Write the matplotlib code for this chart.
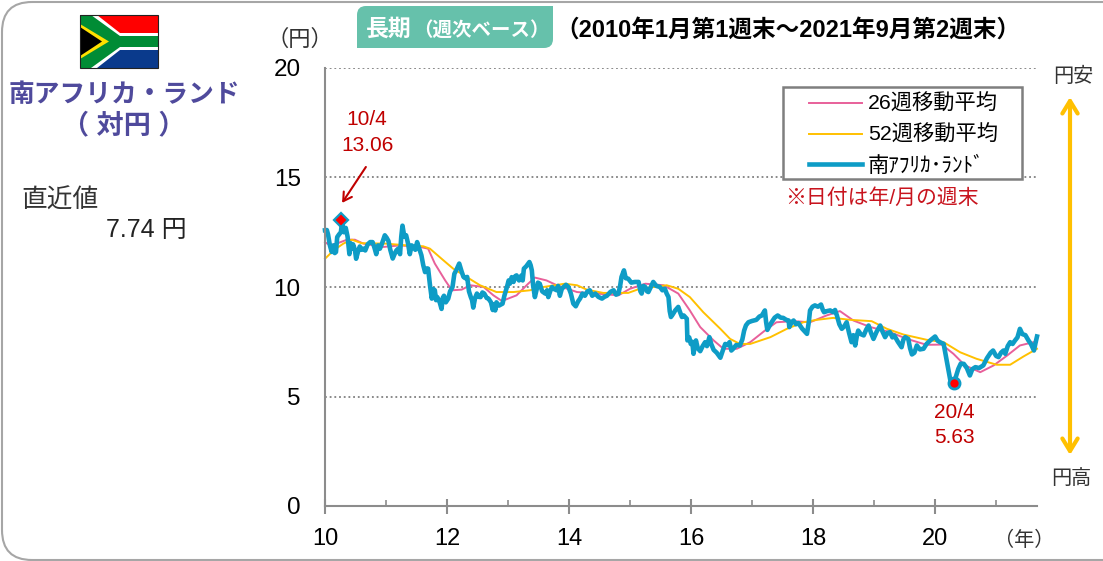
import matplotlib
matplotlib.use('Agg')
import matplotlib.pyplot as plt
from matplotlib.patches import FancyBboxPatch, Polygon, Rectangle

plt.rcParams['font.family'] = ['Liberation Sans', 'Noto Sans CJK JP', 'DejaVu Sans']

# rand weekly close (year, yen)
rand_pts = [
    (10.0, 12.59), (10.03, 12.6), (10.05, 12.4), (10.08, 11.9), (10.11, 11.6), (10.14, 11.9), (10.16, 11.55),
    (10.18, 11.6), (10.2, 12.28), (10.23, 12.4), (10.26, 12.5), (10.28, 12.95), (10.31, 12.5), (10.34, 12.7),
    (10.37, 12.3), (10.4, 11.5), (10.42, 12.0), (10.44, 11.75), (10.46, 11.95), (10.49, 11.7), (10.51, 11.29),
    (10.54, 11.6), (10.57, 11.85), (10.6, 11.7), (10.63, 11.75), (10.66, 11.67), (10.7, 11.95), (10.74, 12.05),
    (10.78, 12.05), (10.81, 11.8), (10.84, 11.5), (10.87, 11.9), (10.9, 11.75), (10.93, 11.95), (10.96, 12.2),
    (10.98, 12.36), (11.01, 12.25), (11.04, 12.1), (11.07, 11.7), (11.11, 11.3), (11.14, 11.5), (11.17, 11.67),
    (11.2, 11.75), (11.23, 11.5), (11.25, 12.3), (11.27, 12.8), (11.3, 12.3), (11.33, 12.36), (11.36, 12.0),
    (11.39, 11.5), (11.42, 11.9), (11.45, 11.83), (11.48, 11.7), (11.51, 12.05), (11.55, 11.7), (11.58, 11.45),
    (11.61, 11.0), (11.64, 10.68), (11.67, 10.85), (11.69, 10.84), (11.72, 10.1), (11.75, 9.47), (11.78, 9.9),
    (11.8, 9.85), (11.82, 9.4), (11.84, 9.54), (11.88, 9.3), (11.91, 9.0), (11.93, 9.5), (11.95, 9.6),
    (11.98, 9.3), (12.02, 9.47), (12.05, 9.8), (12.09, 10.0), (12.12, 10.6), (12.15, 10.76), (12.18, 10.95),
    (12.2, 11.07), (12.24, 10.7), (12.27, 10.46), (12.3, 10.4), (12.33, 10.46), (12.36, 9.8), (12.39, 9.54),
    (12.41, 9.4), (12.43, 9.06), (12.46, 9.5), (12.49, 9.7), (12.52, 9.55), (12.55, 9.54), (12.58, 9.75),
    (12.61, 9.7), (12.65, 9.5), (12.68, 9.47), (12.72, 9.3), (12.75, 8.95), (12.77, 9.2), (12.79, 8.93),
    (12.81, 9.3), (12.85, 9.15), (12.91, 9.24), (12.94, 9.6), (12.99, 10.08), (13.01, 10.3), (13.03, 10.15),
    (13.06, 10.45), (13.09, 10.23), (13.12, 10.5), (13.14, 10.53), (13.18, 10.3), (13.22, 10.53), (13.24, 10.3),
    (13.26, 10.84), (13.3, 10.95), (13.35, 11.14), (13.37, 11.0), (13.39, 10.76), (13.41, 10.1), (13.44, 9.54),
    (13.47, 9.9), (13.49, 10.2), (13.52, 10.15), (13.56, 9.8), (13.61, 9.7), (13.64, 9.85), (13.66, 9.54),
    (13.69, 9.8), (13.72, 10.0), (13.76, 9.9), (13.8, 9.85), (13.82, 10.05), (13.85, 9.6), (13.88, 9.9),
    (13.91, 10.0), (13.95, 10.1), (13.99, 10.0), (14.03, 9.7), (14.07, 9.24), (14.11, 9.12), (14.15, 9.35),
    (14.18, 9.47), (14.22, 9.7), (14.26, 9.6), (14.3, 9.8), (14.34, 9.85), (14.38, 9.6), (14.43, 9.7),
    (14.48, 9.55), (14.54, 9.47), (14.58, 9.55), (14.62, 9.6), (14.68, 9.78), (14.73, 9.85), (14.77, 9.65),
    (14.81, 9.7), (14.84, 10.1), (14.86, 10.46), (14.9, 10.76), (14.93, 10.4), (14.97, 10.38), (15.02, 10.2),
    (15.08, 10.23), (15.14, 10.23), (15.17, 9.8), (15.19, 9.7), (15.22, 10.05), (15.25, 10.0), (15.28, 9.8),
    (15.3, 9.77), (15.34, 10.0), (15.38, 10.23), (15.43, 10.05), (15.49, 10.0), (15.53, 9.85), (15.57, 9.92),
    (15.6, 9.7), (15.63, 9.54), (15.65, 8.9), (15.67, 8.63), (15.7, 8.75), (15.74, 8.93), (15.79, 9.09),
    (15.82, 8.85), (15.85, 8.63), (15.88, 8.7), (15.93, 8.55), (15.94, 7.56), (15.97, 7.7), (15.995, 7.4),
    (16.02, 7.5), (16.04, 6.95), (16.06, 7.3), (16.08, 7.56), (16.11, 7.2), (16.15, 7.07), (16.19, 7.3),
    (16.23, 7.48), (16.26, 7.3), (16.3, 7.71), (16.33, 7.4), (16.37, 7.13), (16.42, 7.0), (16.48, 6.77),
    (16.52, 7.1), (16.56, 7.4), (16.6, 7.35), (16.63, 7.48), (16.66, 7.1), (16.69, 7.18), (16.74, 7.35),
    (16.8, 7.33), (16.84, 7.6), (16.87, 8.01), (16.9, 8.25), (16.94, 8.39), (17.0, 8.45), (17.07, 8.5),
    (17.12, 8.65), (17.16, 8.7), (17.21, 8.93), (17.23, 8.4), (17.25, 8.04), (17.28, 8.2), (17.32, 8.39),
    (17.37, 8.6), (17.42, 8.7), (17.47, 8.6), (17.51, 8.59), (17.56, 8.5), (17.6, 8.47), (17.61, 8.17),
    (17.65, 8.4), (17.68, 8.47), (17.72, 8.3), (17.76, 8.35), (17.82, 8.1), (17.9, 7.86), (17.93, 8.4),
    (17.95, 8.93), (17.99, 9.1), (18.03, 9.16), (18.08, 9.1), (18.13, 9.2), (18.16, 8.95), (18.18, 8.85),
    (18.23, 8.9), (18.28, 8.93), (18.33, 8.85), (18.36, 8.95), (18.39, 8.7), (18.43, 8.3), (18.47, 8.09),
    (18.51, 8.2), (18.55, 8.39), (18.59, 7.9), (18.63, 7.48), (18.66, 7.8), (18.69, 7.33), (18.72, 7.8),
    (18.74, 8.01), (18.78, 7.85), (18.83, 7.79), (18.87, 8.05), (18.91, 8.24), (18.95, 7.9), (18.99, 7.63),
    (19.04, 7.95), (19.1, 8.24), (19.14, 7.95), (19.18, 7.71), (19.22, 7.9), (19.26, 7.94), (19.3, 7.7),
    (19.33, 7.79), (19.39, 7.5), (19.45, 7.25), (19.48, 7.6), (19.51, 7.71), (19.56, 7.63), (19.59, 7.2),
    (19.62, 6.92), (19.66, 7.0), (19.7, 7.33), (19.75, 7.15), (19.81, 7.18), (19.86, 7.4), (19.92, 7.56),
    (20.0, 7.74), (20.04, 7.55), (20.08, 7.48), (20.14, 7.4), (20.19, 6.64), (20.22, 6.2), (20.25, 5.73),
    (20.31, 5.63), (20.35, 6.0), (20.38, 6.26), (20.42, 6.5), (20.47, 6.49), (20.52, 6.3), (20.57, 5.96),
    (20.61, 6.25), (20.66, 6.34), (20.72, 6.3), (20.79, 6.42), (20.85, 6.75), (20.91, 7.0), (20.95, 7.1),
    (21.0, 6.85), (21.04, 6.8), (21.08, 7.0), (21.12, 7.1), (21.15, 6.95), (21.19, 7.3), (21.23, 7.48),
    (21.27, 7.4), (21.31, 7.56), (21.35, 7.7), (21.39, 8.09), (21.43, 7.85), (21.48, 7.8), (21.53, 7.56),
    (21.57, 7.4), (21.62, 7.1), (21.65, 7.5), (21.67, 7.74),
]
rand_x, rand_y = zip(*rand_pts)

ma26_x = [10.0, 10.08, 10.19, 10.36, 10.49, 10.63, 10.96, 11.23, 11.56, 11.69, 11.8, 11.97, 12.08, 12.24, 12.38,
          12.6, 12.76, 12.9, 13.14, 13.33, 13.44, 13.63, 13.8, 14.13, 14.45, 14.81, 15.0, 15.25, 15.55, 15.79,
          15.98, 16.15, 16.37, 16.53, 16.75, 16.97, 17.21, 17.4, 17.68, 17.95, 18.22, 18.44, 18.66, 18.94, 19.26,
          19.54, 19.86, 20.11, 20.3, 20.49, 20.74, 20.96, 21.18, 21.39, 21.61, 21.67]
ma26_y = [12.05, 11.9, 11.98, 12.16, 12.16, 11.98, 11.83, 11.9, 11.83, 11.75, 11.07, 10.3, 9.85, 9.88, 10.08,
          10.0, 9.62, 9.36, 9.62, 10.15, 10.43, 10.3, 10.08, 9.77, 9.7, 9.62, 9.92, 10.15, 10.08, 9.7,
          8.93, 8.17, 7.56, 7.18, 7.18, 7.48, 8.01, 8.39, 8.44, 8.39, 8.7, 8.9, 8.47, 8.17, 7.94,
          7.63, 7.36, 7.37, 6.95, 6.42, 6.11, 6.42, 6.87, 7.33, 7.48, 7.5]

ma52_x = [10.0, 10.14, 10.3, 10.44, 10.6, 11.0, 11.34, 11.61, 11.72, 11.94, 12.1, 12.32, 12.54, 12.81, 13.09,
          13.36, 13.58, 13.93, 14.13, 14.29, 14.56, 14.97, 15.16, 15.6, 15.79, 15.98, 16.2, 16.48, 16.64, 16.8,
          16.97, 17.3, 17.57, 17.84, 18.06, 18.33, 18.61, 18.96, 19.21, 19.48, 19.86, 20.14, 20.41, 20.68, 21.01,
          21.23, 21.45, 21.67]
ma52_y = [11.29, 11.67, 11.98, 12.16, 12.0, 11.98, 11.9, 11.86, 11.75, 11.22, 10.84, 10.46, 10.08, 9.77, 9.77,
          9.85, 10.0, 10.15, 10.08, 9.88, 9.73, 9.73, 9.92, 10.08, 9.92, 9.54, 8.85, 8.09, 7.63, 7.4,
          7.4, 7.71, 8.09, 8.39, 8.5, 8.59, 8.5, 8.44, 8.09, 7.83, 7.59, 7.48, 7.02, 6.72, 6.45,
          6.45, 6.83, 7.18]

high_x, high_y = 10.26, 13.06
low_x, low_y = 20.31, 5.63
year_ticks = [10, 12, 14, 16, 18, 20]
year_minor = [11, 13, 15, 17, 19, 21]
year_labels = ['10', '12', '14', '16', '18', '20']
yen_ticks = [0, 5, 10, 15, 20]

W, H = 1103, 561
RED = '#C00000'
BLUE = '#0E9CC6'
PURPLE = '#4F4A9C'
GRAY = '#8C8C8C'
BADGE = '#66C1AB'

fig = plt.figure(figsize=(W / 100, H / 100), dpi=100)

# overlay in pixel coords for the frame, flag and loose text
bg = fig.add_axes([0, 0, 1, 1])
bg.set_xlim(0, W)
bg.set_ylim(H, 0)
bg.axis('off')

bg.add_patch(FancyBboxPatch((2, 2), W + 100, H - 3, boxstyle='round,pad=0,rounding_size=30',
                            fc='none', ec='#A6A6A6', lw=1.5))

# flag
bg.add_patch(Rectangle((80, 15), 78, 26, fc='#FF0000', ec='none'))
bg.add_patch(Rectangle((80, 41), 78, 27, fc='#0A3A8C', ec='none'))
bg.add_patch(Polygon([(80, 15), (97, 15), (120, 33), (158, 33), (158, 50), (120, 50), (97, 68), (80, 68)], fc='white', ec='none'))
bg.add_patch(Polygon([(80, 15), (91, 15), (120, 36), (158, 36), (158, 47), (120, 47), (91, 68), (80, 68)], fc='#008C35', ec='none'))
bg.add_patch(Polygon([(80, 24), (109, 41.5), (80, 59)], fc='#FFE000', ec='none'))
bg.add_patch(Polygon([(80, 27), (102, 41.5), (80, 56)], fc='black', ec='none'))
bg.add_patch(Rectangle((80, 15), 78, 53, fc='none', ec='#222222', lw=0.8))

bg.text(124, 95, '南アフリカ・ランド', fontsize=18.5, fontweight='bold', color=PURPLE, ha='center', va='center')
bg.text(124, 126, '（ 対円 ）', fontsize=19.5, fontweight='bold', color=PURPLE, ha='center', va='center')
bg.text(60, 200.5, '直近値', fontsize=18.5, color='#333333', ha='center', va='center')
bg.text(106, 230, '7.74 円', fontsize=18, color='#222222', ha='left', va='center')

# heading badge: only top-left and bottom-right corners are rounded
bg.add_patch(FancyBboxPatch((357, 6), 196, 42, boxstyle='round,pad=0,rounding_size=9', fc=BADGE, ec='none'))
bg.add_patch(Rectangle((357, 30), 20, 18, fc=BADGE, ec='none'))
bg.add_patch(Rectangle((533, 6), 20, 20, fc=BADGE, ec='none'))
bg.text(366, 29, '長期', fontsize=16.5, fontweight='bold', color='white', ha='left', va='center')
bg.text(413, 30, '（週次ベース）', fontsize=14, fontweight='bold', color='white', ha='left', va='center')
bg.text(555, 30, '（2010年1月第1週末～2021年9月第2週末）', fontsize=17, fontweight='bold', color='black', ha='left', va='center')

bg.text(300, 40, '（円）', fontsize=16, color='#333333', ha='center', va='center')
bg.text(1024, 540, '（年）', fontsize=14.5, color='#333333', ha='center', va='center')
bg.text(1073, 76, '円安', fontsize=14.5, color='#333333', ha='center', va='center')
bg.text(1071, 478, '円高', fontsize=14.5, color='#333333', ha='center', va='center')

# yen direction arrow
arrow_style = dict(arrowstyle='->,head_length=0.9,head_width=0.55', color='#FFC000', lw=3, shrinkA=0, shrinkB=0)
bg.annotate('', xy=(1070, 97), xytext=(1070, 275), arrowprops=arrow_style)
bg.annotate('', xy=(1070, 455), xytext=(1070, 275), arrowprops=arrow_style)

# chart
ax = fig.add_axes([325 / W, 1 - 506 / H, (1037 - 325) / W, (506 - 68) / H])
ax.patch.set_alpha(0)
ax.set_xlim(10, 21.67)
ax.set_ylim(0, 20)
ax.set_xticks(year_ticks)
ax.set_xticks(year_minor, minor=True)
ax.set_xticklabels(year_labels)
ax.set_yticks(yen_ticks)
ax.tick_params(axis='x', which='major', labelsize=17, length=10.8, width=1.5, direction='inout', pad=10.5,
               color=GRAY, labelcolor='black')
ax.tick_params(axis='x', which='minor', length=4.3, width=1.2, direction='in', color=GRAY)
ax.tick_params(axis='y', labelsize=17.5, length=0, pad=17.5, labelcolor='black')
ax.grid(axis='y', color='#808080', linestyle=(0, (1, 1.6)), lw=1.3)
ax.set_axisbelow(True)
for s in ['top', 'right']:
    ax.spines[s].set_visible(False)
for s in ['left', 'bottom']:
    ax.spines[s].set_color(GRAY)
    ax.spines[s].set_linewidth(1.5)

l26, = ax.plot(ma26_x, ma26_y, color='#E8609A', lw=1.4, label='26週移動平均', clip_on=False)
l52, = ax.plot(ma52_x, ma52_y, color='#FFC000', lw=1.4, label='52週移動平均', clip_on=False)
lr, = ax.plot(rand_x, rand_y, color=BLUE, lw=3.3, label='南ｱﾌﾘｶ･ﾗﾝﾄﾞ', clip_on=False, solid_joinstyle='round')

ax.plot([high_x], [high_y], marker='D', ms=7, mfc='#FF0000', mec=BLUE, mew=1.6, clip_on=False)
ax.plot([low_x], [low_y], marker='o', ms=8, mfc='#FF0000', mec=BLUE, mew=2, clip_on=False)

ax.annotate('', xy=(10.28, 13.84), xytext=(10.67, 15.48),
            arrowprops=dict(arrowstyle='->,head_length=0.6,head_width=0.35', color=RED, lw=1.5, shrinkA=0, shrinkB=0))
ax.text(10.69, 17.63, '10/4', fontsize=15, color=RED, ha='center', va='center')
ax.text(10.69, 16.44, '13.06', fontsize=15, color=RED, ha='center', va='center')
ax.text(low_x, 4.29, '20/4', fontsize=15, color=RED, ha='center', va='center')
ax.text(low_x, 3.15, '5.63', fontsize=15, color=RED, ha='center', va='center')
bg.text(785, 198, '※日付は年/月の週末', fontsize=15, color='#C8141E', ha='left', va='center')

# legend box is drawn by hand, its padding is wider than tall
ax.add_patch(Rectangle((783, 87), 239, 92, transform=bg.transData, fc='white', ec='#7F7F7F', lw=1.8, zorder=4, clip_on=False))
leg = ax.legend(handles=[l26, l52, lr], loc='upper left', bbox_to_anchor=(809 / W, 1 - 94 / H),
                bbox_transform=fig.transFigure, fontsize=15.3, frameon=False, borderaxespad=0, borderpad=0,
                labelspacing=0.5, handlelength=2.5, handletextpad=0.28)
leg.set_zorder(5)

fig.savefig('out.png', dpi=100)
